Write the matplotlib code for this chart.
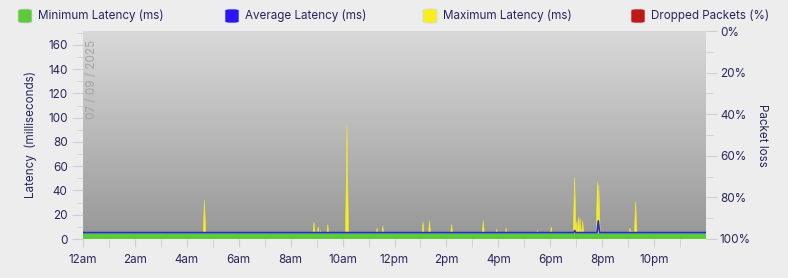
import numpy as np
import matplotlib.pyplot as plt
from matplotlib.patches import FancyBboxPatch
from matplotlib.colors import LinearSegmentedColormap

plt.rcParams['font.family'] = ['Inter', 'DejaVu Sans']

# data (hours since midnight, milliseconds)
min_hours = [0, 24]
min_latency = [4.6, 4.6]

avg_hours = [0, 18.90, 18.94, 18.98, 19.80, 19.85, 19.90, 24]
avg_latency = [5.3, 5.3, 7.0, 5.3, 5.3, 15.0, 5.3, 5.3]

spike_hours = [4.68, 8.90, 9.06, 9.15, 9.43, 10.17, 11.33, 11.55, 13.10, 13.35,
               14.20, 15.42, 15.94, 16.30, 17.50, 18.04, 18.94, 19.00, 19.08,
               19.15, 19.25, 19.55, 19.82, 19.87, 21.07, 21.15, 21.29]
spike_latency = [32, 14, 10, 7, 12, 94, 9, 11, 14, 15,
                 12, 15, 8, 9, 7, 10, 51, 14, 18,
                 17, 15, 6, 47, 45, 9, 7, 31]

tick_hours = [0, 2, 4, 6, 8, 10, 12, 14, 16, 18, 20, 22]
tick_labels = ['12am', '2am', '4am', '6am', '8am', '10am', '12pm', '2pm', '4pm', '6pm', '8pm', '10pm']

legend_names = ['Minimum Latency (ms)', 'Average Latency (ms)', 'Maximum Latency (ms)', 'Dropped Packets (%)']
legend_colors = ['#5ccb3a', '#2a16f5', '#f7ef22', '#c01818']

text_color = '#27265c'
fs = 8.4
ymax = 171.5

fig = plt.figure(figsize=(7.88, 2.78), dpi=100)
fig.patch.set_facecolor('#ededed')
ax = fig.add_axes([83 / 788, 1 - 239 / 278, (706 - 83) / 788, (239 - 31) / 278])

# gradient background of plot area
cmap = LinearSegmentedColormap.from_list('bg', ['#979797', '#d9d9d9'])
grad = np.linspace(0, 1, 256).reshape(-1, 1)
ax.imshow(grad, extent=[0, 24, 0, ymax], aspect='auto', cmap=cmap, origin='lower', zorder=0)

# max latency spikes as thin triangles
w = 0.06
for h, v in zip(spike_hours, spike_latency):
    ax.fill([h - w, h, h + w], [0, v, 0], color='#f7ef22', zorder=2, linewidth=0.4,
            edgecolor='#f2e82a')
# min latency band
ax.fill_between(min_hours, 0, min_latency, color='#5ccb3a', zorder=3, linewidth=0)
# average line
ax.plot(avg_hours, avg_latency, color='#2a2ad8', lw=1.2, zorder=4)

ax.set_xlim(0, 24)
ax.set_ylim(0, ymax)
for s in ax.spines.values():
    s.set_visible(False)

ax.set_xticks(tick_hours)
ax.set_xticklabels(tick_labels)
ax.set_xticks(np.arange(1, 24, 2), minor=True)
ax.set_yticks(np.arange(0, 161, 20))
ax.set_yticks(np.arange(10, 171, 20), minor=True)
ax.tick_params(axis='x', which='both', length=6, color='#cfcfcf', labelsize=fs, labelcolor=text_color, pad=5)
ax.tick_params(axis='y', which='major', length=8, color='#cfcfcf', labelsize=fs, labelcolor=text_color, pad=3)
ax.tick_params(axis='y', which='minor', length=4, color='#cfcfcf')
ax.set_ylabel('Latency  (milliseconds)', color=text_color, fontsize=fs, labelpad=8)

ax.text(0.35, ymax - 7, '07 / 09 / 2025', rotation=90, ha='center', va='top',
        color='#a3a3a3', fontsize=fs)

# right axis: packet loss
ax2 = ax.twinx()
ax2.set_ylim(100, 0)
for s in ax2.spines.values():
    s.set_visible(False)
ax2.set_yticks(np.arange(0, 101, 20))
ax2.set_yticklabels([f'{v}%' for v in range(0, 101, 20)])
ax2.set_yticks(np.arange(10, 100, 20), minor=True)
ax2.tick_params(axis='y', which='major', length=8, color='#cfcfcf', labelsize=fs, labelcolor=text_color, pad=2)
ax2.tick_params(axis='y', which='minor', length=5, color='#cfcfcf')
ax2.set_ylabel('Packet loss', rotation=-90, color=text_color, fontsize=fs, labelpad=12)

# legend
legend_x = [18, 225, 423, 631]
for x0, name, col in zip(legend_x, legend_names, legend_colors):
    box = FancyBboxPatch((x0 / 788, 1 - 23 / 278), 14 / 788, 14 / 278,
                         boxstyle='round,pad=0,rounding_size=0.006',
                         transform=fig.transFigure, facecolor=col, edgecolor='#d8d8d8', lw=0.5)
    fig.patches.append(box)
    fig.text((x0 + 20) / 788, 1 - 16 / 278, name, color=text_color, fontsize=fs, va='center', ha='left')

fig.savefig('out.png', dpi=100, facecolor=fig.get_facecolor())
